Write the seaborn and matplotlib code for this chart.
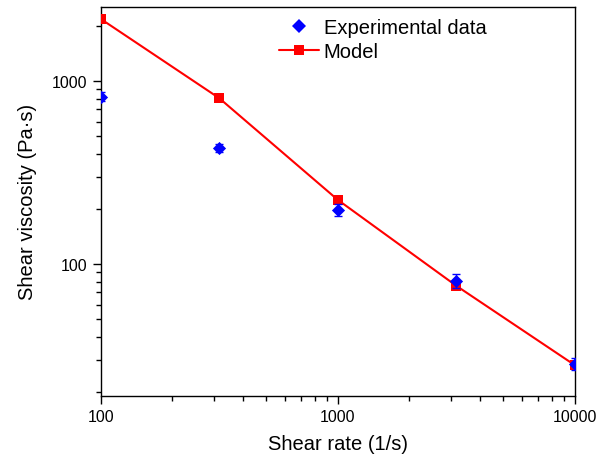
import numpy as np
import seaborn as sns
import matplotlib.pyplot as plt
from matplotlib.ticker import LogLocator, NullFormatter

# shear rate (1/s) and viscosity (Pa·s)
shear_rate = [100, 316, 1000, 3162, 10000]
exp_visc = [820, 430, 197, 81, 28.5]
exp_err = [45, 22, 15, 7, 2]
model_visc = [2180, 805, 224, 76, 28]

sns.set_theme(style="ticks")
plt.rcParams['font.family'] = ['Liberation Sans', 'DejaVu Sans']
plt.rcParams.update({'text.color': 'black', 'axes.labelcolor': 'black',
                     'xtick.color': 'black', 'ytick.color': 'black'})

fig, ax = plt.subplots(figsize=(6, 4.6), dpi=100)

# model: line + square markers
sns.lineplot(x=shear_rate, y=model_visc, ax=ax, color='#ff0000', linewidth=1.5, zorder=2)
sns.scatterplot(x=shear_rate, y=model_visc, ax=ax, color='#ff0000', marker='s',
                s=50, linewidth=0, zorder=3)

# experimental data with error bars
ax.errorbar(shear_rate, exp_visc, yerr=exp_err, fmt='none', ecolor='#0000ff',
            capsize=3, elinewidth=1, zorder=4)
sns.scatterplot(x=shear_rate, y=exp_visc, ax=ax, color='#0000ff', marker='D',
                s=45, linewidth=0, zorder=5)

ax.set_xscale('log')
ax.set_yscale('log')
ax.set_xlim(100, 10000)
ax.set_ylim(19, 2540)

ax.set_xticks([100, 1000, 10000])
ax.set_xticklabels(['100', '1000', '10000'])
ax.set_yticks([100, 1000])
ax.set_yticklabels(['100', '1000'])
ax.xaxis.set_minor_locator(LogLocator(base=10, subs=np.arange(2, 10)))
ax.yaxis.set_minor_locator(LogLocator(base=10, subs=np.arange(2, 10)))
ax.xaxis.set_minor_formatter(NullFormatter())
ax.yaxis.set_minor_formatter(NullFormatter())
ax.tick_params(which='major', direction='out', length=6, width=1, labelsize=11.5, color='black')
ax.tick_params(which='minor', direction='out', length=3.5, width=1, color='black')

for s in ax.spines.values():
    s.set_color('black')
    s.set_linewidth(1)

ax.set_xlabel('Shear rate (1/s)', fontsize=14.5, labelpad=7)
ax.set_ylabel('Shear viscosity (Pa·s)', fontsize=14.5, labelpad=11)

h_exp = plt.Line2D([], [], color='#0000ff', marker='D', markersize=7, linestyle='none',
                   markeredgewidth=0)
h_mod = plt.Line2D([], [], color='#ff0000', marker='s', markersize=6.5, linewidth=1.5,
                   markeredgewidth=0)
ax.legend([h_exp, h_mod], ['Experimental data', 'Model'], loc='upper left',
          bbox_to_anchor=(0.375, 0.972), frameon=False, fontsize=14.5,
          handlelength=2.0, handletextpad=0.25, labelspacing=0.25,
          borderpad=0, borderaxespad=0)

plt.subplots_adjust(left=0.168, right=0.958, top=0.983, bottom=0.137)
plt.savefig('out.png', dpi=100)
